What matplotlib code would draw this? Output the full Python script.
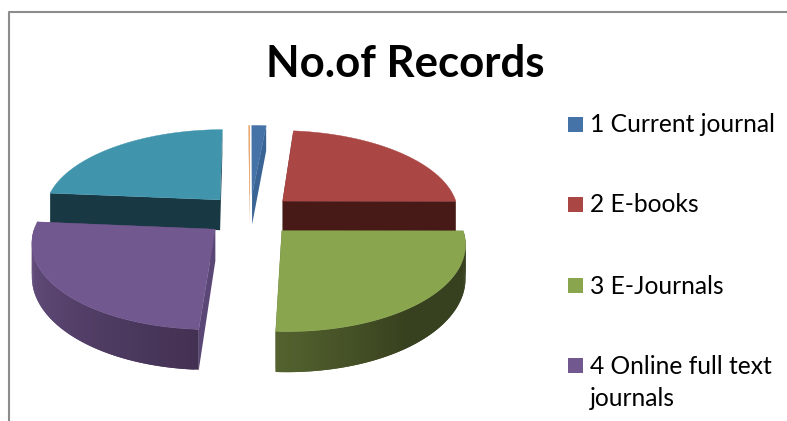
import matplotlib
matplotlib.use("Agg")
import matplotlib.pyplot as plt
import numpy as np

title = "No.of Records"
values = [1.5, 23.5, 25.8, 25.5, 23.5, 0.12]
legend_labels = ["1 Current journal", "2 E-books", "3 E-Journals", "4 Online full text\njournals"]

top_colors = ["#4573a7", "#aa4643", "#89a54e", "#71588f", "#4095ad", "#e8a46a"]
face_colors = ["#3a6494", "#471a18", "#37411f", "#5b4776", "#183944", "#c98a55"]
wall_light = ["#3a6494", "#471a18", "#55632f", "#6a5486", "#183944", "#c98a55"]
wall_dark = ["#2c4d72", "#471a18", "#37411f", "#433153", "#183944", "#c98a55"]
# degrees over which the outer wall goes from light to dark
shade_span = [5, 85, 40, 92, 85, 1]

# back slices first, front ones last
draw_order = [4, 1, 0, 5, 3, 2]

CX, CY = 250, 215
FX, FY = 177, 83.1
PERSP = 0.131
EXPLODE = 0.255
DEPTH = 31.5


def project(u, v, drop=False):
    s = 1 / (1 + PERSP * np.asarray(v))
    x = CX + FX * np.asarray(u) * s
    y = CY - FY * np.asarray(v) * s
    if drop:
        y = y + DEPTH * s ** 1.5
    return x, y


def fill_quad(ax, x0, y0, x1, y1, color):
    ax.fill(np.r_[x0, x1[::-1]], np.r_[y0, y1[::-1]], color=color, lw=0)


def draw_slice(ax, a0, a1, i):
    mid = np.radians((a0 + a1) / 2)
    ou, ov = EXPLODE * np.sin(mid), EXPLODE * np.cos(mid)
    th = np.radians(np.linspace(a0, a1, 80))
    u = ou + np.sin(th)
    v = ov + np.cos(th)

    # flat cut faces
    for t in (th[0], th[-1]):
        eu = np.array([ou, ou + np.sin(t)])
        ev = np.array([ov, ov + np.cos(t)])
        fill_quad(ax, *project(eu, ev), *project(eu, ev, True), face_colors[i])

    # curved outer wall, shaded in small strips that overlap to hide the seams
    light = np.array(matplotlib.colors.to_rgb(wall_light[i]))
    dark = np.array(matplotlib.colors.to_rgb(wall_dark[i]))
    for k in range(len(th) - 1):
        ang = np.degrees(th[k])
        if not 90 <= ang <= 270:
            continue
        f = np.clip((a1 - ang) / shade_span[i], 0, 1)
        col = light + (dark - light) * f
        uu, vv = u[k:k + 3], v[k:k + 3]
        fill_quad(ax, *project(uu, vv), *project(uu, vv, True), col)

    # top surface
    tx, ty = project(np.r_[ou, u], np.r_[ov, v])
    ax.fill(tx, ty, color=top_colors[i], lw=0.3)


fig = plt.figure(figsize=(7.87, 4.21), dpi=100)
plt.rcParams["font.family"] = ["Lato", "DejaVu Sans"]
ax = fig.add_axes([0, 0, 1, 1])
ax.set_xlim(0, 787)
ax.set_ylim(421, 0)
ax.axis("off")

# chart frame, cut off by the crop on the right and bottom
ax.plot([9, 9, 787], [421, 12, 12], color="#8c8c8c", lw=1.5)

edges = np.r_[0, np.cumsum(values)] / np.sum(values) * 360
for i in draw_order:
    draw_slice(ax, edges[i], edges[i + 1], i)

ax.text(405, 77, title, ha="center", va="baseline", fontsize=31.5, fontweight="bold", color="black")

legend_y = [124, 204, 285, 365]
for label, y, col in zip(legend_labels, legend_y, top_colors):
    ax.add_patch(plt.Rectangle((568, y - 7.5), 15, 15, color=col, lw=0))
    ax.text(590, y + 8.5, label.split("\n")[0], ha="left", va="baseline", fontsize=17.7, color="black")
    if "\n" in label:
        ax.text(590, y + 41.5, label.split("\n")[1], ha="left", va="baseline", fontsize=17.7, color="black")

fig.savefig("out.png", dpi=100)
